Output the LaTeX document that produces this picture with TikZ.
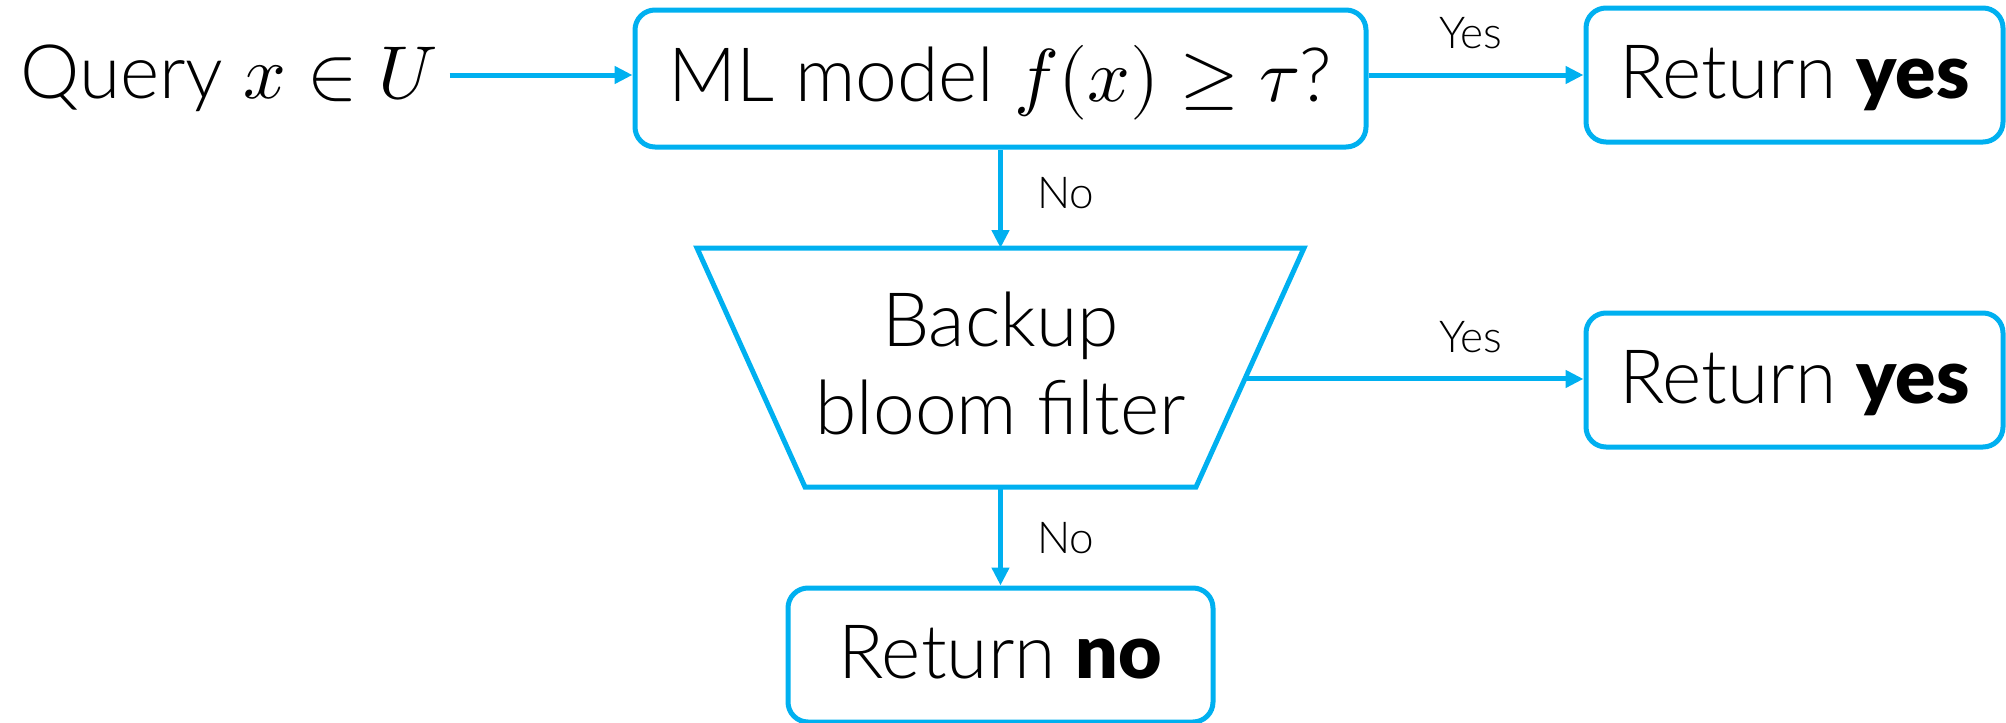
\documentclass[tikz,border=0pt]{standalone}
\usepackage{fontspec}
\usepackage{unicode-math}
\setmainfont{Lato Light}[BoldFont={Lato Black}]
\setmathfont{Latin Modern Math}
\usetikzlibrary{arrows.meta,calc}
\definecolor{cy}{HTML}{00B0F0}
\tikzset{
  big/.style={font=\fontsize{75}{88}\selectfont},
  lbl/.style={font=\fontsize{44}{50}\selectfont, inner sep=0pt},
  box/.style={draw=cy, line width=5pt, rounded corners=20pt, big,
    text height=54pt, text depth=8pt, inner sep=0pt},
  arr/.style={draw=cy, line width=5pt, -{Triangle[length=18pt,width=17pt]}},
  shapeline/.style={draw=cy, line width=5pt, line join=miter},
}
\begin{document}
\begin{tikzpicture}[x=1pt,y=-1pt]
\useasboundingbox (0,0) rectangle (2006,723);
% nodes
\node[big, inner sep=0pt, anchor=base west] (q) at (20,98) {Query $x\in U$};
\node[box, minimum width=731pt, minimum height=137pt] (ml) at (1000.5,78.5) {ML model $f(x)\geq\tau$?};
\node[box, minimum width=417pt, minimum height=134pt] (ry1) at (1794.5,75) {Return \textbf{yes}};
\node[box, minimum width=417pt, minimum height=134pt] (ry2) at (1794.5,380) {Return \textbf{yes}};
\node[box, minimum width=425pt, minimum height=134pt] (rn) at (1000.5,655) {Return \textbf{no}};
% trapezoid (backup bloom filter)
\coordinate (tl) at (697,248);
\coordinate (tr) at (1304,248);
\coordinate (br) at (1196,487);
\coordinate (bl) at (805,487);
\coordinate (tt) at ($(tl)!0.5!(tr)$);
\coordinate (bb) at ($(bl)!0.5!(br)$);
\coordinate (bfr) at ($(tr)!0.548!(br)$);
\draw[shapeline] (tl) -- (tr) -- (br) -- (bl) -- cycle;
\node[big, align=center, inner sep=0pt] (bf) at (1000.5,364) {Backup\\bloom filter};
% connectors
\draw[arr] ([xshift=12pt]q.east |- ry1.west) -- (ml.west |- ry1.west);
\draw[arr] (ml.east |- ry1.west) -- (ry1.west);
\draw[arr] (ml.south) -- (tt);
\draw[arr] (bfr) -- (ry2.west |- bfr);
\draw[arr] (bb) -- (rn.north);
% labels
\node[lbl, anchor=base] (y1) at (1471,48) {Yes};
\node[lbl, anchor=base] (y2) at (1471,352) {Yes};
\node[lbl, anchor=base west] (n1) at (1037,208) {No};
\node[lbl, anchor=base west] (n2) at (1037,553) {No};
\end{tikzpicture}
\end{document}
